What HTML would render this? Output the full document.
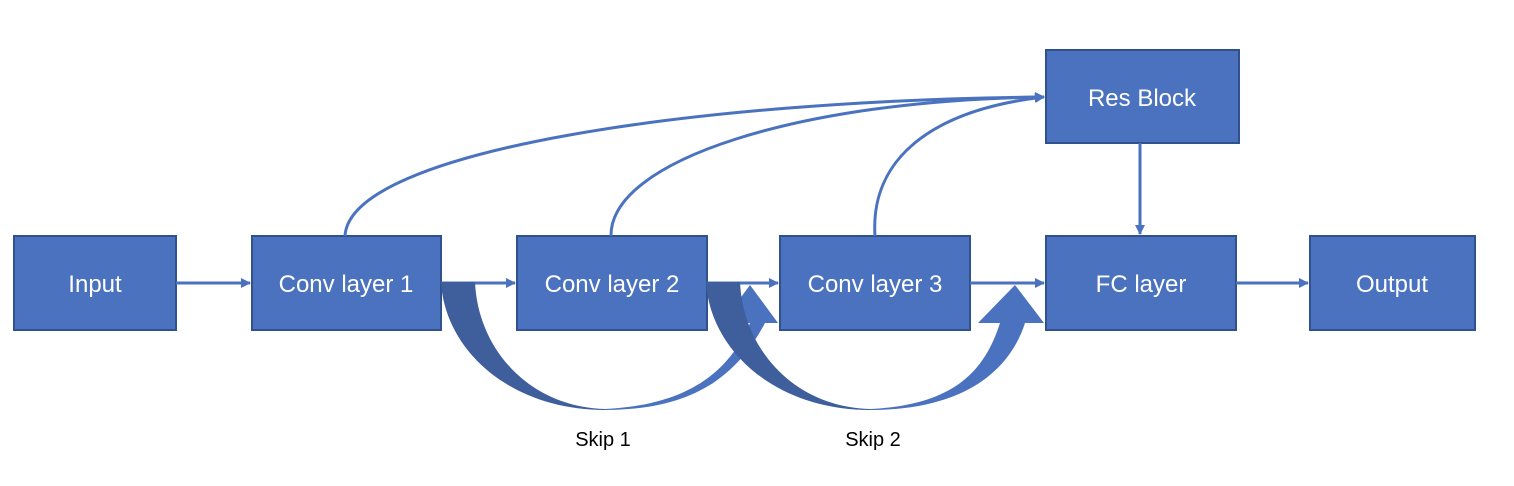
<!DOCTYPE html>
<html><head><style>
body{margin:0;background:#fff;}
svg{display:block;}
.b{fill:#4a72bf;stroke:#2f528f;stroke-width:2;}
.t{fill:#fff;font-family:"Liberation Sans",sans-serif;font-size:24px;text-anchor:middle;}
.l{fill:#000;font-family:"Liberation Sans",sans-serif;font-size:20px;text-anchor:middle;}
.c{fill:none;stroke:#4a72bf;stroke-width:3;}
</style></head><body>
<svg width="1514" height="486" viewBox="0 0 1514 486">
<defs><marker id="a" markerWidth="10" markerHeight="10" refX="9" refY="5" orient="auto" markerUnits="userSpaceOnUse"><path d="M0,0 L10,5 L0,10 z" fill="#4a72bf"/></marker></defs>
<rect class="b" x="14" y="236" width="162" height="94"/>
<rect class="b" x="252" y="236" width="189" height="94"/>
<rect class="b" x="517" y="236" width="190" height="94"/>
<rect class="b" x="780" y="236" width="190" height="94"/>
<rect class="b" x="1046" y="236" width="190" height="94"/>
<rect class="b" x="1310" y="236" width="165" height="94"/>
<rect class="b" x="1046" y="50" width="193" height="93"/>
<text class="t" x="95" y="292">Input</text>
<text class="t" x="346" y="292">Conv layer 1</text>
<text class="t" x="612" y="292">Conv layer 2</text>
<text class="t" x="875" y="292">Conv layer 3</text>
<text class="t" x="1141" y="292">FC layer</text>
<text class="t" x="1392" y="292">Output</text>
<text class="t" x="1142" y="106">Res Block</text>
<g class="c" marker-end="url(#a)">
<path d="M176,283 L250,283"/>
<path d="M441,283 L515,283"/>
<path d="M707,283 L778,283"/>
<path d="M970,283 L1044,283"/>
<path d="M1236,283 L1308,283"/>
<path d="M1140,143 L1140,234"/>
<path d="M345,236 C350,150 700,100 1044,97"/>
<path d="M611,236 C610,160 800,100 1044,97"/>
<path d="M875,236 C870,160 930,110 1044,97"/>
</g>
<path d="M441,282 L475,282 C478,350 530,407 605,409 L605,410 C510,410 445,350 441,282 Z" fill="#3e5e9c"/>
<path d="M605,410 C700,410 740,370 765,323 L778,323 L750,285 L722,323 L750,323 C730,370 690,405 605,409 Z" fill="#4a72bf"/>
<path d="M706,282 L740,282 C743,350 795,407 870,409 L870,410 C775,410 710,350 706,282 Z" fill="#3e5e9c"/>
<path d="M870,410 C965,410 1010,370 1025,323 L1044,323 L1015,285 L978,323 L1000,323 C985,370 955,405 870,409 Z" fill="#4a72bf"/>
<text class="l" x="603" y="446">Skip 1</text>
<text class="l" x="873" y="446">Skip 2</text>
</svg>
</body></html>
